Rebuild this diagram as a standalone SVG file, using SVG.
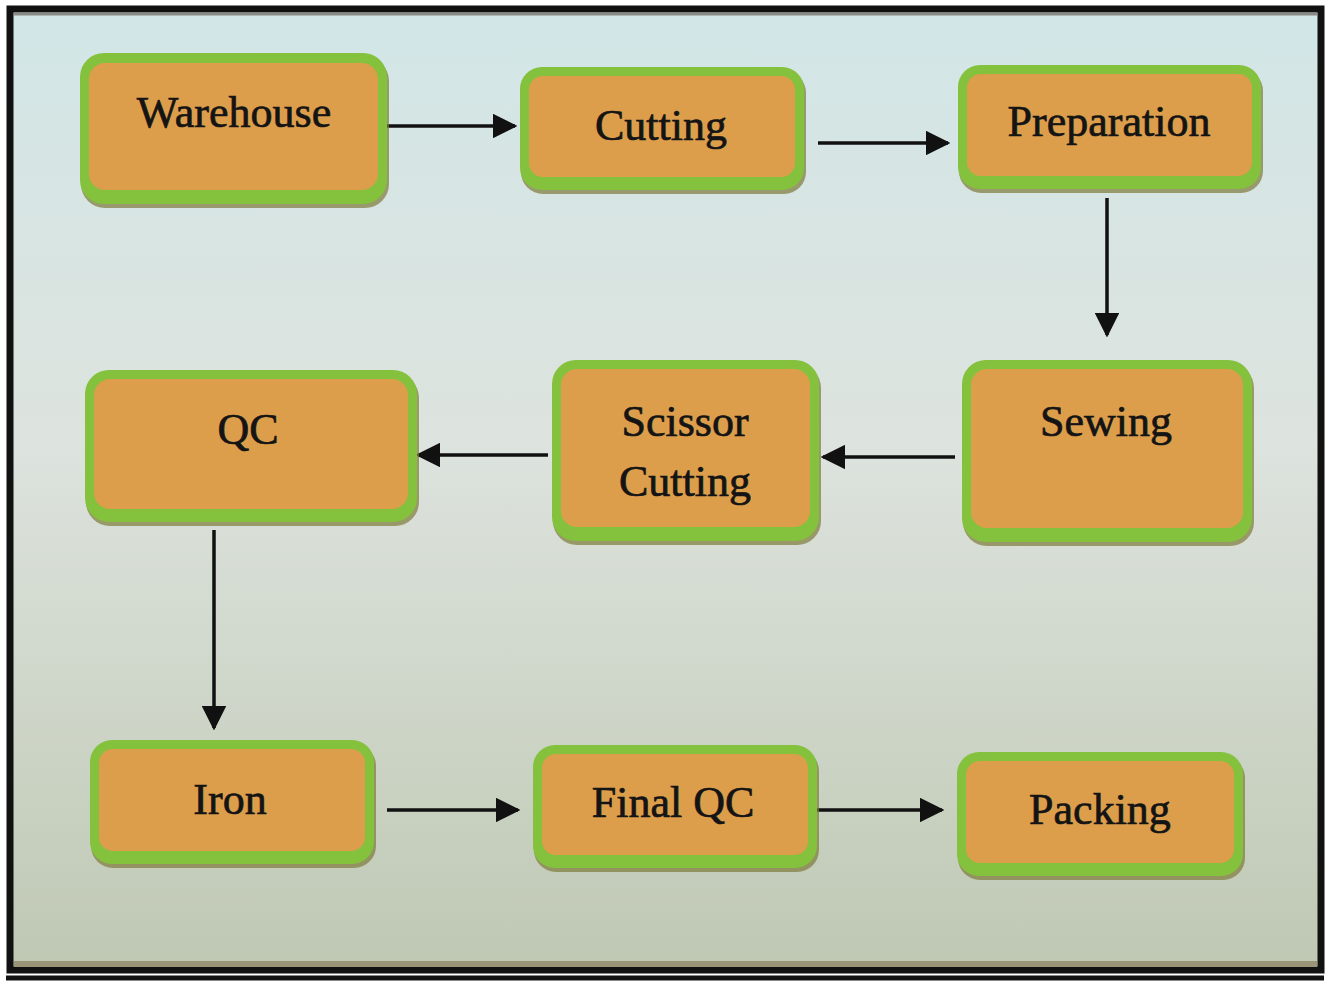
<svg xmlns="http://www.w3.org/2000/svg" width="1332" height="985" viewBox="0 0 1332 985">
<defs>
<linearGradient id="bg" x1="0" y1="0" x2="0" y2="1">
<stop offset="0" stop-color="#d2e6e7"/>
<stop offset="0.45" stop-color="#dde3de"/>
<stop offset="1" stop-color="#bfc8b3"/>
</linearGradient>
<marker id="ah" viewBox="0 0 10 10" refX="9" refY="5" markerWidth="7" markerHeight="7" markerUnits="strokeWidth" orient="auto">
<path d="M0,0 L10,5 L0,10 Z" fill="#111"/>
</marker>
</defs>
<style>
.shadow{fill:#7d7a3a;opacity:0.7}
.outer{fill:#84c13c}
.inner{fill:#dd9e4c}
.lbl{font-size:44px;fill:#141414;text-anchor:middle;stroke:#141414;stroke-width:0.7}
.conn{stroke:#111;stroke-width:3.5;fill:none;marker-end:url(#ah)}
</style>
<rect x="0" y="0" width="1332" height="985" fill="#ffffff"/>
<rect x="10" y="9" width="1311" height="961" fill="url(#bg)" stroke="#111" stroke-width="7"/>
<line x1="14" y1="14" x2="1317" y2="14" stroke="#8c8a86" stroke-width="3"/>
<line x1="14" y1="964" x2="1317" y2="964" stroke="#9a9478" stroke-width="6"/>
<line x1="6" y1="978" x2="1324" y2="978" stroke="#111" stroke-width="5"/>

<g id="connectors">
<line class="conn" x1="385" y1="126" x2="515" y2="126"/>
<line class="conn" x1="818" y1="143" x2="948" y2="143"/>
<line class="conn" x1="1107" y1="198" x2="1107" y2="335"/>
<line class="conn" x1="955" y1="457" x2="823" y2="457"/>
<line class="conn" x1="548" y1="455" x2="418" y2="455"/>
<line class="conn" x1="214" y1="530" x2="214" y2="728"/>
<line class="conn" x1="387" y1="810" x2="518" y2="810"/>
<line class="conn" x1="810" y1="810" x2="942" y2="810"/>
</g>

<g font-family="Liberation Serif, Times New Roman, DejaVu Serif, serif">
<g id="warehouse">
<rect class="shadow" x="81" y="57" width="308" height="151" rx="24"/>
<rect class="outer" x="80" y="53" width="307" height="151" rx="24"/>
<rect class="inner" x="89" y="63" width="289" height="127" rx="16"/>
<text class="lbl" x="234" y="127">Warehouse</text>
</g>
<g id="cutting">
<rect class="shadow" x="521" y="71" width="285" height="123" rx="22"/>
<rect class="outer" x="520" y="67" width="284" height="123" rx="22"/>
<rect class="inner" x="529" y="76" width="266" height="101" rx="14"/>
<text class="lbl" x="661" y="140">Cutting</text>
</g>
<g id="preparation">
<rect class="shadow" x="959" y="69" width="304" height="124" rx="22"/>
<rect class="outer" x="958" y="65" width="303" height="124" rx="22"/>
<rect class="inner" x="967" y="74" width="285" height="102" rx="14"/>
<text class="lbl" x="1109" y="136">Preparation</text>
</g>
<g id="qc">
<rect class="shadow" x="86" y="374" width="333" height="152" rx="24"/>
<rect class="outer" x="85" y="370" width="332" height="152" rx="24"/>
<rect class="inner" x="94" y="379" width="314" height="130" rx="16"/>
<text class="lbl" x="248" y="444">QC</text>
</g>
<g id="scissor-cutting">
<rect class="shadow" x="553" y="364" width="268" height="181" rx="24"/>
<rect class="outer" x="552" y="360" width="267" height="181" rx="24"/>
<rect class="inner" x="561" y="369" width="249" height="158" rx="16"/>
<text class="lbl" x="685" y="436">Scissor</text>
<text class="lbl" x="685" y="496">Cutting</text>
</g>
<g id="sewing">
<rect class="shadow" x="963" y="364" width="291" height="182" rx="24"/>
<rect class="outer" x="962" y="360" width="290" height="182" rx="24"/>
<rect class="inner" x="971" y="369" width="272" height="159" rx="16"/>
<text class="lbl" x="1106" y="436">Sewing</text>
</g>
<g id="iron">
<rect class="shadow" x="91" y="744" width="285" height="124" rx="22"/>
<rect class="outer" x="90" y="740" width="284" height="124" rx="22"/>
<rect class="inner" x="99" y="749" width="266" height="102" rx="14"/>
<text class="lbl" x="230" y="814">Iron</text>
</g>
<g id="final-qc">
<rect class="shadow" x="534" y="749" width="285" height="123" rx="22"/>
<rect class="outer" x="533" y="745" width="284" height="123" rx="22"/>
<rect class="inner" x="542" y="754" width="266" height="101" rx="14"/>
<text class="lbl" x="673" y="817">Final QC</text>
</g>
<g id="packing">
<rect class="shadow" x="958" y="756" width="287" height="124" rx="22"/>
<rect class="outer" x="957" y="752" width="286" height="124" rx="22"/>
<rect class="inner" x="966" y="761" width="268" height="102" rx="14"/>
<text class="lbl" x="1100" y="824">Packing</text>
</g>
</g>
</svg>
